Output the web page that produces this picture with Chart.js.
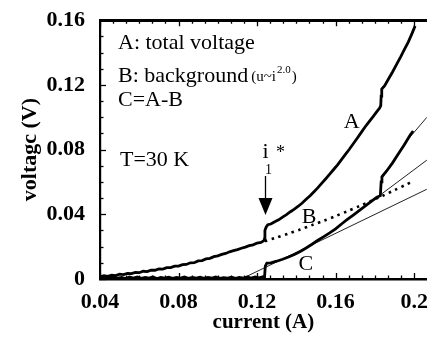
<!DOCTYPE html>
<html>
<head>
<meta charset="utf-8">
<script src="https://cdn.jsdelivr.net/npm/chart.js@4/dist/chart.umd.min.js"></script>
<style>
  html, body { margin: 0; padding: 0; background: #fff; }
  #wrap { width: 430px; height: 339px; }
</style>
</head>
<body>
<div id="wrap"><canvas id="c" width="430" height="339"></canvas></div>
<script>
// A: total voltage (current in A, voltage in V)
const currentTotal = [
  0.040, 0.042, 0.044, 0.046, 0.048, 0.050, 0.052, 0.054, 0.056, 0.058,
  0.060, 0.062, 0.064, 0.066, 0.068, 0.070, 0.072, 0.074, 0.076, 0.078,
  0.080, 0.082, 0.084, 0.086, 0.088, 0.090, 0.092, 0.094, 0.096, 0.098,
  0.100, 0.102, 0.104, 0.106, 0.108, 0.110, 0.112, 0.114, 0.116, 0.118,
  0.120, 0.122, 0.1235, 0.1238, 0.1240, 0.1246, 0.1255,
  0.127, 0.129, 0.131, 0.133, 0.135, 0.137, 0.139, 0.141, 0.143, 0.145,
  0.147, 0.149, 0.151, 0.153, 0.155, 0.157, 0.159, 0.161, 0.163, 0.165,
  0.167, 0.169, 0.171, 0.173, 0.175, 0.177, 0.179, 0.181, 0.1825, 0.1830,
  0.1832, 0.1835, 0.185, 0.187, 0.189, 0.191, 0.193, 0.195, 0.197, 0.199, 0.2005
];
const voltageTotal = [
  0.0012, 0.0020, 0.0016, 0.0024, 0.0021, 0.0030, 0.0027, 0.0035, 0.0033, 0.0041,
  0.0039, 0.0048, 0.0046, 0.0055, 0.0054, 0.0062, 0.0061, 0.0070, 0.0070, 0.0079,
  0.0080, 0.0089, 0.0090, 0.0100, 0.0101, 0.0112, 0.0114, 0.0124, 0.0128, 0.0138,
  0.0143, 0.0152, 0.0158, 0.0168, 0.0175, 0.0182, 0.0190, 0.0197, 0.0206, 0.0211,
  0.0222, 0.0226, 0.0237, 0.0250, 0.0300, 0.0320, 0.0336,
  0.0340, 0.0354, 0.0366, 0.0383, 0.0398, 0.0416, 0.0432, 0.0450, 0.0470, 0.0493,
  0.0515, 0.0540, 0.0565, 0.0593, 0.0620, 0.0648, 0.0677, 0.0706, 0.0738, 0.0770,
  0.0802, 0.0836, 0.0870, 0.0905, 0.0940, 0.0972, 0.1003, 0.1035, 0.1058, 0.1072,
  0.1130, 0.1175, 0.1195, 0.1238, 0.1280, 0.1325, 0.1370, 0.1418, 0.1465, 0.1520, 0.1565
];

// B: background (u ~ i^2.0), dotted above the step
const currentBg = [0.124, 0.130, 0.136, 0.142, 0.148, 0.154, 0.160, 0.166, 0.172, 0.178, 0.184, 0.190, 0.196, 0.199];
const voltageBg = [0.0234, 0.0257, 0.0281, 0.0306, 0.0333, 0.0360, 0.0389, 0.0419, 0.0450, 0.0482, 0.0515, 0.0549, 0.0584, 0.0602];

// C = A - B
const currentDiff = [
  0.040, 0.041, 0.043, 0.045, 0.047, 0.049, 0.051, 0.053, 0.055, 0.057,
  0.059, 0.061, 0.063, 0.065, 0.067, 0.069, 0.071, 0.073, 0.075, 0.077,
  0.079, 0.081, 0.083, 0.085, 0.087, 0.089, 0.091, 0.093, 0.095, 0.097,
  0.099, 0.101, 0.103, 0.105, 0.107, 0.109, 0.111, 0.113, 0.115, 0.117,
  0.119, 0.121, 0.123, 0.1238, 0.1242, 0.1250,
  0.127, 0.130, 0.133, 0.136, 0.139, 0.142, 0.145, 0.148, 0.151, 0.154,
  0.157, 0.160, 0.163, 0.166, 0.169, 0.172, 0.175, 0.178, 0.181, 0.1828,
  0.1832, 0.1836, 0.186, 0.189, 0.192, 0.195, 0.198, 0.1995
];
const voltageDiff = [
  0.0015, 0.0004, 0.0012, 0.0006, 0.0014, 0.0005, 0.0010, 0.0003, 0.0012, 0.0006,
  0.0013, 0.0004, 0.0010, 0.0005, 0.0012, 0.0003, 0.0009, 0.0005, 0.0011, 0.0004,
  0.0010, 0.0006, 0.0012, 0.0004, 0.0009, 0.0005, 0.0011, 0.0004, 0.0010, 0.0005,
  0.0012, 0.0004, 0.0009, 0.0006, 0.0011, 0.0004, 0.0010, 0.0005, 0.0012, 0.0006,
  0.0013, 0.0007, 0.0014, 0.0010, 0.0080, 0.0098,
  0.0100, 0.0110, 0.0122, 0.0136, 0.0152, 0.0170, 0.0192, 0.0215, 0.0240, 0.0262,
  0.0285, 0.0310, 0.0340, 0.0368, 0.0395, 0.0422, 0.0450, 0.0478, 0.0505, 0.0515,
  0.0600, 0.0632, 0.0668, 0.0718, 0.0775, 0.0830, 0.0890, 0.0915
];

// thin guide lines drawn through C
const fitLowI = [0.112, 0.2065];
const fitLowV = [0.0, 0.0555];
const fitMidI = [0.158, 0.2065];
const fitMidV = [0.0295, 0.0735];
const fitHighI = [0.196, 0.2065];
const fitHighV = [0.0850, 0.1000];

// threshold current i1*
const iStar = 0.1238;

// axis ticks
const xTickValues = [0.04, 0.08, 0.12, 0.16, 0.2];
const xTickLabels = ['0.04', '0.08', '0.12', '0.16', '0.2'];
const yTickValues = [0, 0.04, 0.08, 0.12, 0.16];
const yTickLabels = ['0', '0.04', '0.08', '0.12', '0.16'];

const X_MIN = 0.04, X_MAX = 0.2065, Y_MIN = 0, Y_MAX = 0.16;
const SERIF = '"Liberation Serif", "Times New Roman", serif';

const pts = (xs, ys) => xs.map((x, i) => ({ x: x, y: ys[i] }));

const thick = { borderColor: '#000', borderWidth: 2.8, pointRadius: 0, tension: 0, fill: false };
const thin = { borderColor: '#222', borderWidth: 1, pointRadius: 0, tension: 0, fill: false };

// inward tick marks, text labels and the i1* arrow
const decor = {
  id: 'decor',
  afterDatasetsDraw(chart) {
    const ctx = chart.ctx;
    const xs = chart.scales.x, ys = chart.scales.y;
    const a = chart.chartArea;
    ctx.save();
    ctx.strokeStyle = '#000';
    ctx.lineWidth = 1.3;
    const xMinorStep = 0.04 / 6;
    for (let k = 0; ; k++) {
      const v = X_MIN + k * xMinorStep;
      if (v > X_MAX + 1e-9) break;
      const px = Math.round(xs.getPixelForValue(v)) + 0.5;
      const len = (k % 6 === 0) ? 6 : 3.5;
      ctx.beginPath();
      ctx.moveTo(px, a.bottom); ctx.lineTo(px, a.bottom - len);
      ctx.moveTo(px, a.top); ctx.lineTo(px, a.top + len);
      ctx.stroke();
    }
    const yMinorStep = 0.01;
    for (let k = 0; ; k++) {
      const v = Y_MIN + k * yMinorStep;
      if (v > Y_MAX + 1e-9) break;
      const py = Math.round(ys.getPixelForValue(v)) + 0.5;
      const len = (k % 4 === 0) ? 6 : 3.5;
      ctx.beginPath();
      ctx.moveTo(a.left, py); ctx.lineTo(a.left + len, py);
      ctx.stroke();
    }

    ctx.fillStyle = '#000';
    ctx.textAlign = 'left';
    ctx.textBaseline = 'alphabetic';
    ctx.font = '22px ' + SERIF;
    ctx.fillText('A: total voltage', 118, 49);
    ctx.fillText('B: background', 118, 82);
    const bw = ctx.measureText('B: background').width;
    ctx.font = '15px ' + SERIF;
    ctx.fillText('(u~i', 118 + bw + 3, 81);
    const uw = ctx.measureText('(u~i').width;
    ctx.font = '11px ' + SERIF;
    ctx.fillText('2.0', 118 + bw + 3 + uw + 1, 73);
    const sw = ctx.measureText('2.0').width;
    ctx.font = '15px ' + SERIF;
    ctx.fillText(')', 118 + bw + 3 + uw + 2 + sw, 81);
    ctx.font = '22px ' + SERIF;
    ctx.fillText('C=A-B', 118, 106);
    ctx.fillText('T=30 K', 120, 166);

    // curve labels
    ctx.textAlign = 'center';
    ctx.textBaseline = 'middle';
    ctx.fillText('A', xs.getPixelForValue(0.1682), ys.getPixelForValue(0.0971));
    ctx.fillText('B', xs.getPixelForValue(0.1465), ys.getPixelForValue(0.0379));
    ctx.fillText('C', xs.getPixelForValue(0.1449), ys.getPixelForValue(0.0092));

    // i1* with arrow
    const ax = Math.round(xs.getPixelForValue(iStar)) + 0.5;
    ctx.font = '22px ' + SERIF;
    ctx.textBaseline = 'alphabetic';
    ctx.fillText('i', ax, 158);
    ctx.font = '14px ' + SERIF;
    ctx.fillText('1', ax + 3, 174);
    ctx.font = '18px ' + SERIF;
    ctx.fillText('*', ax + 15, 158);
    ctx.lineWidth = 1.3;
    ctx.beginPath();
    ctx.moveTo(ax, 176); ctx.lineTo(ax, 200);
    ctx.stroke();
    ctx.beginPath();
    ctx.moveTo(ax - 7, 198); ctx.lineTo(ax + 7, 198); ctx.lineTo(ax, 215);
    ctx.closePath();
    ctx.fill();
    ctx.restore();
  }
};

new Chart(document.getElementById('c'), {
  type: 'line',
  data: {
    datasets: [
      Object.assign({ label: 'A', data: pts(currentTotal, voltageTotal) }, thick),
      Object.assign({ label: 'C', data: pts(currentDiff, voltageDiff) }, thick),
      { label: 'B', data: pts(currentBg, voltageBg), borderColor: '#000', borderWidth: 2.6,
        borderDash: [2.5, 4.5], pointRadius: 0, tension: 0.3, fill: false },
      Object.assign({ label: 'fit 1', data: pts(fitLowI, fitLowV) }, thin),
      Object.assign({ label: 'fit 2', data: pts(fitMidI, fitMidV) }, thin),
      Object.assign({ label: 'fit 3', data: pts(fitHighI, fitHighV) }, thin)
    ]
  },
  options: {
    responsive: false,
    animation: false,
    devicePixelRatio: 1,
    layout: { padding: 0 },
    plugins: { legend: { display: false }, tooltip: { enabled: false } },
    scales: {
      x: {
        type: 'linear', position: 'bottom', min: X_MIN, max: X_MAX,
        afterBuildTicks: s => { s.ticks = xTickValues.map(v => ({ value: v })); },
        afterFit: s => { s.height = 60; },
        grid: { display: false },
        border: { display: true, color: '#000', width: 2.5 },
        ticks: {
          color: '#000', padding: 2, maxRotation: 0, autoSkip: false,
          font: { family: SERIF, size: 22, weight: 'bold' },
          callback: (v, i) => xTickLabels[i]
        },
        title: {
          display: true, text: 'current (A)', color: '#000',
          font: { family: SERIF, size: 21, weight: 'bold' },
          padding: { top: 0, bottom: 4 }
        }
      },
      xTop: {
        type: 'linear', position: 'top', min: X_MIN, max: X_MAX,
        afterFit: s => { s.height = 17; },
        grid: { display: false },
        border: { display: true, color: '#000', width: 3 },
        ticks: { display: false }
      },
      y: {
        type: 'linear', position: 'left', min: Y_MIN, max: Y_MAX,
        afterBuildTicks: s => { s.ticks = yTickValues.map(v => ({ value: v })); },
        afterFit: s => { s.width = 100; },
        grid: { display: false },
        border: { display: true, color: '#000', width: 2.2 },
        ticks: {
          color: '#000', padding: 7, autoSkip: false,
          font: { family: SERIF, size: 22, weight: 'bold' },
          callback: (v, i) => yTickLabels[i]
        },
        title: {
          display: true, text: 'voltagc (V)', color: '#000',
          font: { family: SERIF, size: 22, weight: 'bold' },
          padding: { top: 17, bottom: 0 }
        }
      }
    }
  },
  plugins: [decor]
});
</script>
</body>
</html>
